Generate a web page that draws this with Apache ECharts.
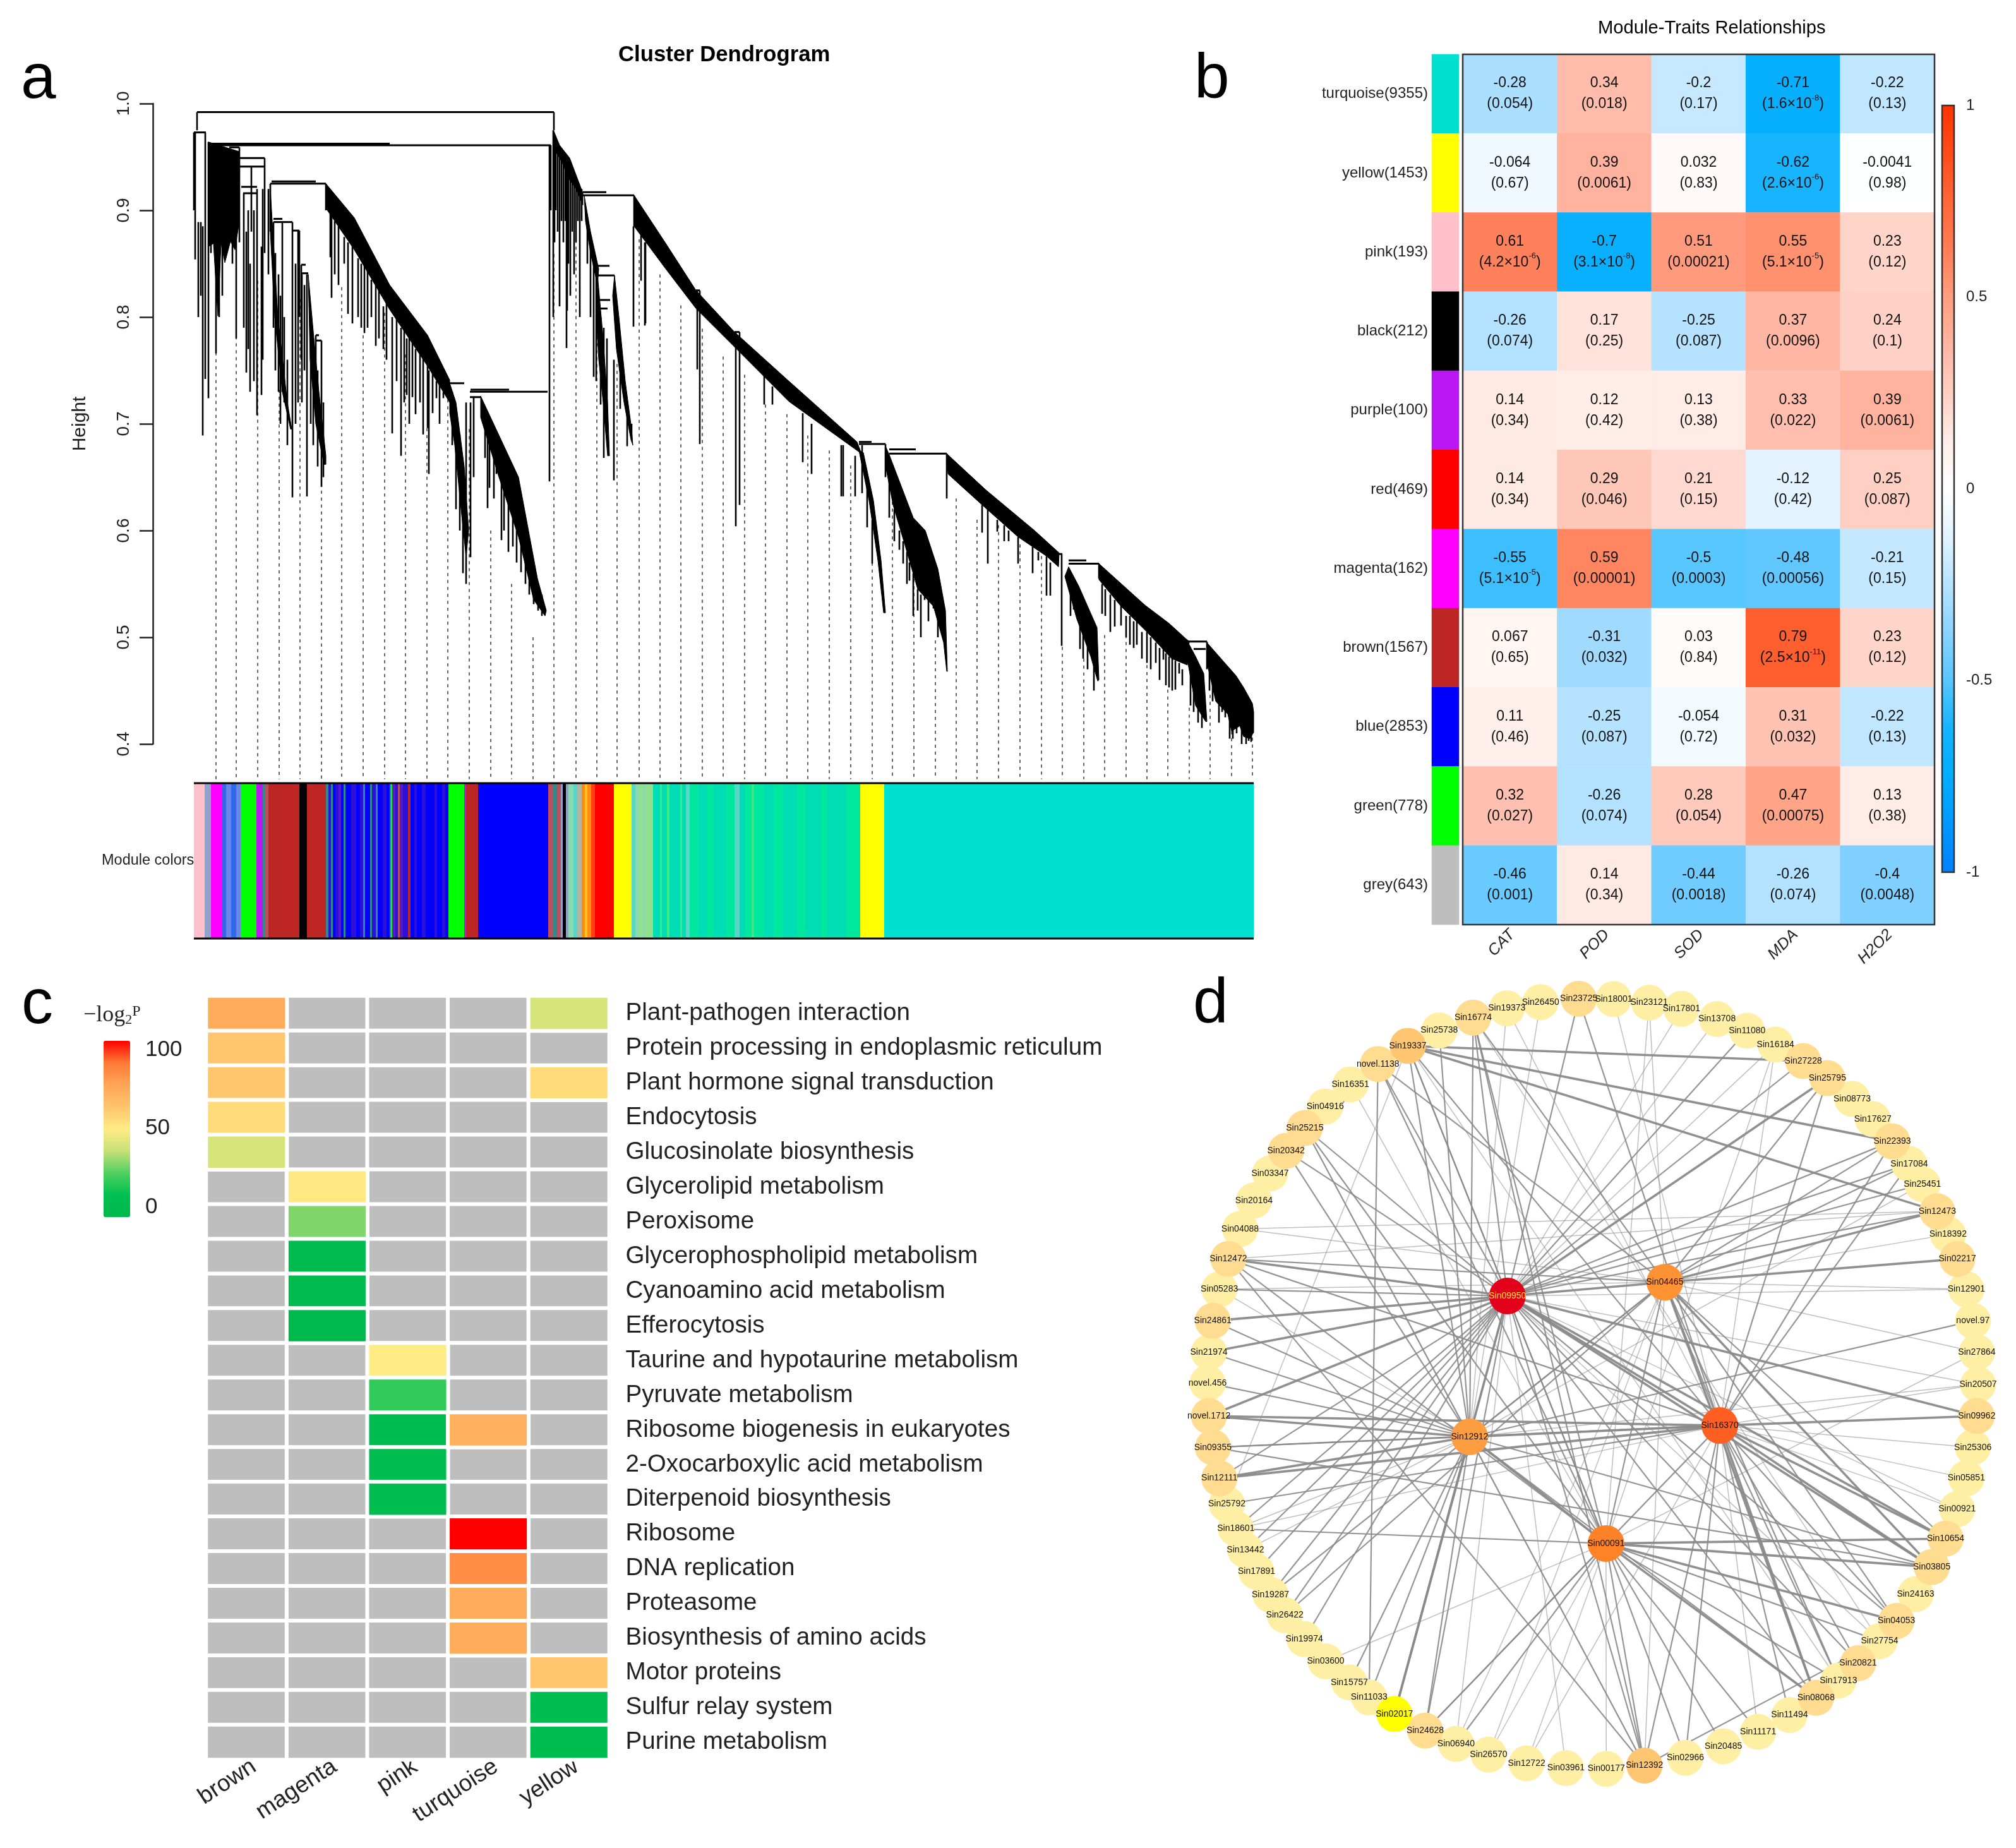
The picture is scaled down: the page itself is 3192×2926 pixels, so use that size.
<!DOCTYPE html>
<html><head><meta charset="utf-8">
<style>html,body{margin:0;padding:0;background:#fff}#c{width:3192px;height:2926px}</style>
<script src="https://cdn.jsdelivr.net/npm/echarts@6/dist/echarts.min.js"></script>
</head><body><div id="c"></div>
<script>
// ---------- Panel a: dendrogram, x = leaf order position, value = merge height
const guideOrder=[342,374,408,442,475,509,541,575,609,642,676,709,743,777,810,844,877,912,945,977,1012,1045,1078,1112,1145,1179,1212,1246,1279,1313,1347,1381,1413,1447,1481,1514,1547,1581,1615,1649,1682,1716,1749,1783,1816,1849,1883,1916,1950,1983];
const guideTop=[.780,.847,.834,.732,.817,.644,.828,.783,.804,.765,.696,.723,.695,.600,.550,.500,.859,.892,.795,.756,.873,.840,.811,.789,.763,.746,.718,.709,.689,.675,.661,.570,.627,.587,.497,.630,.610,.605,.587,.576,.491,.480,.502,.502,.474,.451,.434,.446,.412,.406];
const guideFoot=.367;
const merges=[[312,877,.992],[307,326,.973],[330,872,.961],[330,617,.9625],[379,419,.949],[379,419,.941],[363,379,.959],[382,407,.922],[385,407,.916],[428,516,.925],[430,500,.927],[433,447,.892],[433,463,.889],[463,474,.881],[477,484,.849],[477,488,.841],[500,505,.783],[500,509,.778],[719,726,.696],[712,735,.738],[744,867,.730],[745,806,.732],[744,761,.725],[923,1004,.914],[923,960,.917],[944,973,.839],[944,965,.848],[946,966,.816],[946,962,.808],[1360,1402,.681],[1360,1380,.683],[1408,1499,.672],[1408,1450,.676],[1102,1108,.825],[1163,1171,.786],[1692,1740,.569],[1692,1720,.572],[1677,1682,.578],[1882,1911,.496],[1890,1909,.489]];
const twigs=[[312,.992,.975],[877,.992,.975],[309,.973,.854],[307,.973,.90],[314,.889,.80],[318,.889,.82],[321,.885,.689],[325,.973,.742],[330,.964,.724],[334,.96,.86],[342,.95,.766],[347,.93,.80],[352,.93,.82],[368,.95,.85],[374,.9,.78],[379,.959,.87],[386,.916,.79],[390,.88,.748],[393,.9,.77],[396,.85,.73],[398,.941,.88],[402,.9,.74],[407,.92,.708],[414,.866,.727],[416,.92,.76],[419,.949,.86],[425,.92,.84],[428,.925,.88],[433,.889,.79],[436,.86,.75],[441,.84,.73],[444,.82,.70],[447,.889,.73],[450,.80,.72],[455,.76,.68],[463,.889,.631],[468,.85,.70],[472,.881,.72],[474,.881,.80],[477,.849,.76],[478,.84,.72],[482,.83,.75],[486,.84,.632],[492,.80,.70],[496,.78,.68],[500,.783,.71],[503,.75,.66],[509,.778,.641],[512,.72,.65],[516,.925,.9],
[523,.90,.856],[525,.90,.818],[530,.89,.84],[536,.885,.83],[545,.875,.85],[551,.87,.803],[558,.87,.794],[567,.855,.80],[572,.85,.79],[577,.85,.785],[582,.85,.79],[588,.835,.80],[595,.83,.773],[600,.825,.78],[607,.81,.77],[612,.815,.76],[621,.80,.691],[628,.805,.74],[635,.79,.670],[640,.795,.72],[644,.78,.727],[648,.785,.70],[653,.78,.725],[658,.77,.709],[665,.77,.72],[670,.765,.69],[677,.76,.696],[679,.75,.653],[685,.75,.71],[691,.74,.724],[696,.74,.70],[702,.73,.724],
[716,.73,.68],[722,.70,.62],[728,.69,.60],[733,.66,.56],[738,.72,.55],[745,.72,.575],[750,.725,.65],[768,.71,.668],[772,.70,.621],[775,.70,.64],[782,.69,.63],[786,.68,.653],[794,.67,.591],[798,.665,.60],[805,.66,.58],[812,.64,.585],[818,.62,.57],[825,.61,.561],[832,.60,.55],[838,.58,.54],[845,.56,.531],[852,.55,.525],[858,.54,.52],[870,.961,.646],[872,.961,.90],
[876,.975,.80],[878,.97,.87],[880,.96,.90],[883,.96,.88],[886,.96,.81],[889,.95,.89],[892,.95,.87],[895,.95,.89],[897,.94,.771],[898,.94,.806],[900,.94,.85],[903,.94,.82],[906,.93,.88],[909,.93,.84],[912,.93,.87],[915,.92,.89],[918,.92,.80],[921,.92,.89],[930,.89,.85],[935,.87,.80],[940,.86,.744],[944,.84,.74],[951,.80,.718],[956,.79,.668],[961,.78,.705],[972,.76,.647],[982,.76,.714],[993,.72,.679],[1000,.70,.686],[1004,.914,.885],
[1003,.885,.791],[1015,.88,.834],[1021,.87,.792],[1022,.87,.794],[1104,.825,.751],[1108,.825,.681],[1165,.786,.604],[1171,.786,.624],[1210,.745,.718],[1223,.735,.718],[1271,.71,.664],[1285,.70,.653],[1332,.68,.632],[1335,.68,.632],[1354,.67,.632],[1365,.68,.635],[1373,.64,.603],[1381,.61,.569],
[1402,.681,.65],[1408,.661,.612],[1416,.62,.59],[1424,.60,.582],[1430,.59,.569],[1436,.58,.55],[1440,.57,.553],[1446,.56,.52],[1453,.545,.525],[1458,.54,.50],[1464,.55,.535],[1470,.54,.515],[1478,.53,.527],[1485,.52,.50],[1499,.672,.63],
[1555,.624,.598],[1564,.62,.569],[1579,.61,.599],[1590,.605,.590],[1597,.60,.590],[1612,.594,.569],[1635,.585,.560],[1644,.58,.572],[1657,.576,.539],[1663,.57,.539],[1681,.578,.492],[1695,.55,.52],[1700,.55,.526],[1710,.53,.489],[1715,.51,.48],[1722,.50,.47],[1732,.48,.45],[1740,.569,.555],
[1745,.55,.522],[1750,.545,.52],[1758,.54,.505],[1765,.535,.51],[1775,.53,.511],[1783,.52,.50],[1789,.52,.493],[1795,.515,.49],[1800,.515,.493],[1808,.505,.48],[1816,.505,.476],[1822,.50,.47],[1830,.495,.476],[1836,.49,.46],[1842,.49,.479],[1846,.485,.455],[1851,.482,.453],[1856,.48,.45],[1861,.478,.451],[1867,.476,.466],[1872,.47,.455],[1885,.48,.436],[1890,.45,.43],[1897,.45,.42],[1903,.44,.415],[1911,.496,.47],
[1915,.49,.45],[1920,.48,.44],[1930,.46,.42],[1935,.46,.43],[1940,.455,.425],[1947,.45,.405],[1952,.44,.405],[1958,.435,.41],[1966,.43,.40],[1973,.42,.40],[1977,.42,.403],[1981,.415,.402]];
const branchMass=[
 [[330,.964],[379,.955],[379,.890],[372,.863],[365,.871],[356,.851],[350,.869],[345,.801],[338,.869],[330,.866]],
 [[516,.925],[561,.893],[617,.830],[677,.783],[712,.741],[712,.720],[677,.754],[617,.807],[561,.863],[516,.902]],
 [[428,.92],[440,.80],[455,.72],[462,.695],[460,.695],[447,.73],[435,.80],[428,.88]],
 [[488,.84],[497,.78],[505,.73],[516,.67],[516,.662],[513,.662],[500,.70],[491,.76]],
 [[712,.738],[722,.72],[735,.66],[742,.60],[738,.575],[730,.62],[720,.68],[712,.71]],
 [[761,.726],[821,.650],[851,.555],[865,.525],[863,.520],[845,.535],[821,.594],[790,.65],[761,.706]],
 [[877,.974],[886,.961],[902,.949],[923,.916],[923,.905],[912,.92],[900,.93],[890,.945],[880,.955],[876,.96]],
 [[925,.914],[935,.88],[948,.845],[946,.83],[935,.86],[927,.89]],
 [[946,.84],[955,.78],[962,.72],[965,.67],[962,.67],[955,.72],[948,.76],[944,.80]],
 [[973,.839],[980,.80],[990,.74],[1000,.695],[1002,.68],[999,.685],[988,.72],[976,.77],[970,.82]],
 [[1004,.914],[1053,.870],[1102,.825],[1163,.786],[1249,.740],[1357,.683],[1364,.672],[1249,.721],[1163,.772],[1102,.808],[1053,.846],[1004,.885]],
 [[1367,.673],[1383,.628],[1395,.572],[1402,.523],[1399,.523],[1390,.572],[1376,.628],[1360,.675]],
 [[1402,.679],[1408,.671],[1446,.612],[1465,.600],[1485,.564],[1497,.525],[1500,.468],[1499,.468],[1494,.495],[1478,.529],[1453,.545],[1434,.584],[1414,.624],[1402,.661]],
 [[1499,.672],[1561,.638],[1638,.600],[1677,.579],[1676,.566],[1657,.576],[1612,.594],[1555,.624],[1501,.653]],
 [[1692,.566],[1708,.548],[1737,.509],[1740,.460],[1738,.459],[1727,.482],[1705,.517],[1686,.557]],
 [[1740,.569],[1813,.530],[1851,.513],[1877,.499],[1883,.496],[1880,.474],[1855,.480],[1816,.505],[1775,.529],[1740,.554]],
 [[1883,.493],[1893,.482],[1906,.466],[1911,.421],[1909,.421],[1893,.436],[1879,.482]],
 [[1911,.495],[1957,.464],[1969,.453],[1983,.438],[1985,.43],[1985,.411],[1983,.409],[1979,.405],[1969,.407],[1963,.417],[1950,.412],[1944,.428],[1925,.440],[1911,.476]]
];
// module colour strip: where each run starts and which module tint it has
const moduleEnd=1985;
const moduleRuns=[[307,'pink'],[324,'slate'],[334,'magenta'],[351,'royal'],[358,'cornflower'],[366,'royal'],[374,'cornflower'],[381,'green'],[406,'purple'],[416,'teal'],[420,'rose'],[425,'brown'],[474,'black'],[486,'brown'],[516,'teal'],[520,'navy'],[524,'teal'],[527,'blue'],[531,'navy'],[536,'violet'],[540,'blue'],[544,'teal'],[547,'blue'],[556,'navy'],[564,'blue'],[570,'navy'],[575,'teal'],[578,'blue'],[586,'teal'],[589,'navy'],[595,'teal'],[598,'blue'],[606,'navy'],[612,'blue'],[617,'teal'],[619,'green'],[621,'violet'],[626,'navy'],[630,'rose'],[633,'violet'],[638,'navy'],[646,'brown'],[650,'blue'],[656,'navy'],[660,'blue'],[668,'navy'],[674,'blue'],[688,'navy'],[692,'blue'],[700,'navy'],[705,'blue'],[710,'green'],[735,'purple'],[738,'brown'],[757,'blue'],[868,'rose'],[876,'teal'],[882,'rose'],[888,'slate'],[891,'black'],[896,'slate'],[900,'mint'],[908,'aqua'],[914,'grey'],[921,'orange'],[926,'gold'],[930,'orange'],[936,'scarlet'],[942,'red'],[972,'yellow'],[1000,'aqua'],[1006,'mint'],[1012,'pale'],[1018,'mint'],[1022,'pale'],[1034,'sea'],[1045,'lime'],[1048,'sea'],[1056,'lime'],[1060,'sea'],[1077,'lime'],[1080,'sea'],[1086,'aqua'],[1092,'spring'],[1106,'sea'],[1120,'spring'],[1130,'sea'],[1150,'spring'],[1163,'aqua'],[1171,'sea'],[1180,'spring'],[1190,'lime'],[1194,'spring'],[1210,'sea'],[1225,'spring'],[1240,'sea'],[1262,'spring'],[1275,'sea'],[1300,'spring'],[1310,'sea'],[1340,'spring'],[1362,'yellow'],[1400,'turquoise']];
// ---------- Panel b
const traits=['CAT','POD','SOD','MDA','H2O2'];
const modules=['turquoise','yellow','pink','black','purple','red','magenta','brown','blue','green','grey'];
const moduleSizes=[9355,1453,193,212,100,469,162,1567,2853,778,643];
const corrTurquoise=[-0.28,0.34,-0.2,-0.71,-0.22];
const corrYellow=[-0.064,0.39,0.032,-0.62,-0.0041];
const corrPink=[0.61,-0.7,0.51,0.55,0.23];
const corrBlack=[-0.26,0.17,-0.25,0.37,0.24];
const corrPurple=[0.14,0.12,0.13,0.33,0.39];
const corrRed=[0.14,0.29,0.21,-0.12,0.25];
const corrMagenta=[-0.55,0.59,-0.5,-0.48,-0.21];
const corrBrown=[0.067,-0.31,0.03,0.79,0.23];
const corrBlue=[0.11,-0.25,-0.054,0.31,-0.22];
const corrGreen=[0.32,-0.26,0.28,0.47,0.13];
const corrGrey=[-0.46,0.14,-0.44,-0.26,-0.4];
const pTurquoise=['0.054','0.018','0.17','1.6×10^-8','0.13'];
const pYellow=['0.67','0.0061','0.83','2.6×10^-6','0.98'];
const pPink=['4.2×10^-6','3.1×10^-8','0.00021','5.1×10^-5','0.12'];
const pBlack=['0.074','0.25','0.087','0.0096','0.1'];
const pPurple=['0.34','0.42','0.38','0.022','0.0061'];
const pRed=['0.34','0.046','0.15','0.42','0.087'];
const pMagenta=['5.1×10^-5','0.00001','0.0003','0.00056','0.15'];
const pBrown=['0.65','0.032','0.84','2.5×10^-11','0.12'];
const pBlue=['0.46','0.087','0.72','0.032','0.13'];
const pGreen=['0.027','0.074','0.054','0.00075','0.38'];
const pGrey=['0.001','0.34','0.0018','0.074','0.0048'];
const corrRows=[corrTurquoise,corrYellow,corrPink,corrBlack,corrPurple,corrRed,corrMagenta,corrBrown,corrBlue,corrGreen,corrGrey];
const pRows=[pTurquoise,pYellow,pPink,pBlack,pPurple,pRed,pMagenta,pBrown,pBlue,pGreen,pGrey];
// ---------- Panel c
const enrichModules=['brown','magenta','pink','turquoise','yellow'];
const pathways=['Plant-pathogen interaction','Protein processing in endoplasmic reticulum','Plant hormone signal transduction','Endocytosis','Glucosinolate biosynthesis','Glycerolipid metabolism','Peroxisome','Glycerophospholipid metabolism','Cyanoamino acid metabolism','Efferocytosis','Taurine and hypotaurine metabolism','Pyruvate metabolism','Ribosome biogenesis in eukaryotes','2-Oxocarboxylic acid metabolism','Diterpenoid biosynthesis','Ribosome','DNA replication','Proteasome','Biosynthesis of amino acids','Motor proteins','Sulfur relay system','Purine metabolism'];
const enrichBrown=[72,62,62,55,41,null,null,null,null,null,null,null,null,null,null,null,null,null,null,null,null,null];
const enrichMagenta=[null,null,null,null,null,51,30,6,6,2,null,null,null,null,null,null,null,null,null,null,null,null];
const enrichPink=[null,null,null,null,null,null,null,null,null,null,50,20,8,8,8,null,null,null,null,null,null,null];
const enrichTurquoise=[null,null,null,null,null,null,null,null,null,null,null,null,70,null,null,100,82,72,72,null,null,null];
const enrichYellow=[41,null,55,null,null,null,null,null,null,null,null,null,null,null,null,null,null,null,null,62,8,8];
// ---------- Panel d: angle clockwise from the top of the ring
const ringNames=['Sin18001','Sin23121','Sin17801','Sin13708','Sin11080','Sin16184','Sin27228','Sin25795','Sin08773','Sin17627','Sin22393','Sin17084','Sin25451','Sin12473','Sin18392','Sin02217','Sin12901','novel.97','Sin27864','Sin20507','Sin09962','Sin25306','Sin05851','Sin00921','Sin10654','Sin03805','Sin24163','Sin04053','Sin27754','Sin20821','Sin17913','Sin08068','Sin11494','Sin11171','Sin20485','Sin02966','Sin12392','Sin00177','Sin03961','Sin12722','Sin26570','Sin06940','Sin24628','Sin02017','Sin11033','Sin15757','Sin03600','Sin19974','Sin26422','Sin19287','Sin17891','Sin13442','Sin18601','Sin25792','Sin12111','Sin09355','novel.1712','novel.456','Sin21974','Sin24861','Sin05283','Sin12472','Sin04088','Sin20164','Sin03347','Sin20342','Sin25215','Sin04916','Sin16351','novel.1138','Sin19337','Sin25738','Sin16774','Sin19373','Sin26450','Sin23725'];
const ringAngles=[3.1,8.4,13.3,18.8,23.6,28.3,33.1,37.5,42.3,46.6,51.0,55.2,58.8,63.4,67.2,71.1,75.8,80.6,85.3,90.1,94.8,99.5,104.2,109,113.7,118.4,123.1,128.0,131.9,136.5,140.4,144.6,149.3,154.6,160.2,166.1,172.3,178.0,184.0,189.9,195.7,200.8,205.8,211,215.5,219.2,223.9,228.5,233.1,236.8,240.8,244.4,247.9,251.8,255.8,260.5,265.2,270.1,274.7,279.4,284.2,288.9,293.7,298.4,303.1,307.2,311.6,316.0,321.0,326.1,331.3,336.5,341.9,347.1,352.2,357.9];
const hubNames=['Sin09950','Sin04465','Sin16370','Sin12912','Sin00091'];
const hubRadii=[.318,.323,.347,.348,.416];
const hubAngles=[315.8,35.3,108.2,246.7,175.3];
const warmestNodes=['Sin19337','Sin12392'];
const warmNodes=['Sin16774','novel.1138','Sin25215','Sin20342','Sin12472','Sin12473','Sin22393','Sin02217','Sin23725','Sin09962','novel.1712','Sin09355','Sin12111','Sin10654','Sin03805','Sin04053','Sin08068','Sin24628','Sin20821','Sin25795','Sin27228','Sin24861'];
const edgesHeavy=[
 ['Sin09950',['Sin25795','Sin12472','Sin21974','novel.1712','Sin24861','Sin04465','Sin16370','Sin03805','Sin10654','Sin02017','Sin09962']],
 ['Sin04465',['Sin02217','Sin12473','Sin03805','Sin08068']],
 ['Sin16370',['Sin09962','Sin10654','Sin03805','Sin12912','novel.1712','Sin08068','Sin12111']],
 ['Sin12912',['novel.1712','Sin02017','Sin00091','Sin12111']],
 ['Sin00091',['Sin08068','Sin03805','Sin10654','Sin04053']],
 ['Sin19337',['Sin27228','Sin12473','Sin22393']]];
const edgesMedium=[
 ['Sin09950',['Sin19337','novel.1138','Sin23725','Sin16774','Sin25215','Sin20342','Sin11080','Sin27228','Sin22393','Sin17084','Sin25451','Sin12473','Sin12912','Sin00091','Sin12392','Sin08068','Sin04053','Sin24628','Sin19974','Sin19287','Sin17891','Sin20821','Sin26422','Sin12111','Sin18601','Sin13442','Sin05283']],
 ['Sin04465',['Sin25795','Sin12472','Sin16774','Sin22393','Sin17084','Sin10654','Sin04053','Sin00091','Sin16370','novel.1138','Sin12912','Sin17913','Sin19287','Sin26422']],
 ['Sin16370',['Sin04053','Sin17913','Sin20821','Sin25795','Sin17084','Sin19337','Sin09355','Sin12472','Sin24628','Sin02966','Sin12392','Sin25792','Sin11494','Sin23725','Sin22393']],
 ['Sin12912',['Sin16774','Sin19337','Sin24861','novel.456','Sin21974','Sin09355','Sin11033','Sin15757','Sin24628','Sin12392','Sin08068','Sin03805','Sin25738','Sin25215','Sin20342']],
 ['Sin00091',['Sin24628','Sin12392','Sin02966','Sin12472','Sin16774','Sin19337','Sin18601','Sin25215','Sin20485','Sin11171','Sin17913','Sin06940','novel.1138','Sin27754']],
 ['novel.1138',['Sin20164','Sin11033']],['Sin12392',['Sin27754','Sin12472','Sin16774']],['Sin09355',['Sin03805']],['novel.97',['Sin12912']]];
const edgesThin=[
 ['Sin09950',['Sin17801','Sin13708','Sin16184','Sin12901','Sin20507','Sin00921','Sin27754','Sin06940','Sin03961']],
 ['Sin04465',['Sin12901','Sin27864','Sin04088','Sin23121','Sin18392','Sin12392','Sin06940','Sin26570','Sin05283']],
 ['Sin16370',['Sin25306','Sin05851','Sin00921','Sin20507','Sin12722','Sin16184','Sin11171','Sin18601','Sin19373','Sin18001']],
 ['Sin12912',['Sin19373','Sin05283','Sin20507','Sin25451','Sin18601','Sin13442','Sin26450']],
 ['Sin00091',['Sin03600','Sin26570','Sin12722','Sin00177','Sin27864','Sin16184','Sin23121','Sin16351']],
 ['Sin04088',['Sin12473']],['Sin12472',['Sin12473']],['Sin25215',['Sin12392']],['Sin19337',['Sin17913','Sin25792']],['Sin16774',['Sin27754']]];

// ---------- palettes
const moduleTint={pink:'#FFC0CB',slate:'#8FA4C8',magenta:'#FF00FF',royal:'#2F6BE8',cornflower:'#6A86E8',green:'#00FF00',purple:'#B916F2',teal:'#2E8B8B',rose:'#B8505E',brown:'#BE2625',black:'#000000',navy:'#2A10D8',violet:'#5A18C8',blue:'#0000FF',mint:'#8CD8B0',aqua:'#55D8C8',grey:'#B4B4A4',orange:'#FF8C10',gold:'#FFC020',scarlet:'#FF4010',red:'#FF0000',yellow:'#FFFF00',pale:'#90E08C',sea:'#00DDB4',lime:'#40E880',spring:'#00E89E',turquoise:'#00E0D0'};
const stripTint=Object.assign({},moduleTint,{grey:'#BEBEBE'});
const corrRamp=['#0080FF','#0098FF','#00AEFF','#14B4FF','#58C6FF','#8AD3FF','#B5E3FF','#E2F3FF','#FFFFFF','#FFEDE7','#FFCFC3','#FFB5A2','#FF9E7F','#FF7D56','#FF6638','#FF4C1C','#FF3300'];
const enrichRamp=['#00B84C','#00C050','#50D060','#C8E078','#FFEB84','#FFC46C','#FFA556','#FF7A36','#FF0000'];
const FONT='Liberation Sans';
const hubTint={Sin09950:'#E3001B',Sin04465:'#FF9232',Sin16370:'#FF5F20',Sin12912:'#FF9E40',Sin00091:'#FF8226'};

function drawGuide(p,api){const a=api.coord([api.value(0),api.value(1)]),b=api.coord([api.value(0),guideFoot]);
 return {type:'line',shape:{x1:a[0],y1:a[1],x2:b[0],y2:b[1]},style:{stroke:'#666',lineWidth:2,lineDash:[5,6]}};}
function drawTwig(p,api){const a=api.coord([api.value(0),api.value(1)]),b=api.coord([api.value(0),api.value(2)]);
 return {type:'line',shape:{x1:a[0],y1:a[1],x2:b[0],y2:b[1]},style:{stroke:'#000',lineWidth:2.6}};}
function drawMerge(p,api){const a=api.coord([api.value(0),api.value(2)]),b=api.coord([api.value(1),api.value(2)]);
 return {type:'line',shape:{x1:a[0],y1:a[1],x2:b[0],y2:b[1]},style:{stroke:'#000',lineWidth:3}};}
function drawMass(p,api){return {type:'polygon',shape:{points:branchMass[p.dataIndex].map(q=>api.coord(q))},style:{fill:'#000',stroke:'#000',lineWidth:1}};}
function drawRun(p,api){const i=p.dataIndex,x0=moduleRuns[i][0],x1=i+1<moduleRuns.length?moduleRuns[i+1][0]:moduleEnd;
 const a=api.coord([x0,1]),b=api.coord([x1,0]);
 return {type:'rect',shape:{x:a[0],y:a[1],width:b[0]-a[0]+.5,height:b[1]-a[1]},style:{fill:moduleTint[moduleRuns[i][1]]}};}
function drawRail(p,api){const a=api.coord([307,api.value(1)]),b=api.coord([moduleEnd,api.value(1)]);
 return {type:'line',shape:{x1:a[0],y1:a[1],x2:b[0],y2:b[1]},style:{stroke:'#000',lineWidth:3}};}
function drawFrame(p){const c=p.coordSys;return {type:'rect',shape:{x:c.x,y:c.y,width:c.width,height:c.height},style:{fill:'none',stroke:'#333',lineWidth:2.5}};}

const corrCells=[],stripCells=[];
corrRows.forEach((r,j)=>{r.forEach((v,i)=>corrCells.push([i,j,v,pRows[j][i]]));
 stripCells.push({value:[0,j,1],itemStyle:{color:stripTint[modules[j]]}});});
const moduleLabels=modules.map((m,i)=>m+'('+moduleSizes[i]+')');
function corrLabel(p){const t=p.data[3].split('^');
 return '{v|'+p.data[2]+'}\n{n|('+t[0]+'}'+(t[1]?'{s|'+t[1]+'}':'')+'{n|)}';}

const enrichCols=[enrichBrown,enrichMagenta,enrichPink,enrichTurquoise,enrichYellow];
const enrichCells=[],naCells=[];
enrichCols.forEach((c,i)=>c.forEach((v,j)=>{(v===null?naCells:enrichCells).push(v===null?[i,j,0]:[i,j,v]);}));

const nodes=ringNames.map((n,i)=>({name:n,value:[1,ringAngles[i]],symbolSize:57,
  itemStyle:{color:n==='Sin02017'?'#FFFF00':warmestNodes.includes(n)?'#FFC672':warmNodes.includes(n)?'#FFDC90':'#FFEFA4'}}))
 .concat(hubNames.map((n,i)=>({name:n,value:[hubRadii[i],hubAngles[i]],symbolSize:58,itemStyle:{color:hubTint[n]},
  label:{color:n==='Sin09950'?'#FFE040':'#111'}})));
nodes.sort((a,b)=>(a.itemStyle.color==='#FFEFA4'?0:1)-(b.itemStyle.color==='#FFEFA4'?0:1));
function tierLinks(list,width,op){const out=[];list.forEach(e=>e[1].forEach(t=>out.push({source:e[0],target:t,lineStyle:{width:width,opacity:op,color:'#8a8a8a'}})));return out;}
const links=tierLinks(edgesThin,1.5,.55).concat(tierLinks(edgesMedium,2.2,.9),tierLinks(edgesHeavy,3.6,.95));

const sq={show:false};
const series=[
 {type:'custom',xAxisIndex:0,yAxisIndex:0,renderItem:drawGuide,data:guideOrder.map((x,i)=>[x,guideTop[i]]),silent:true,z:1},
 {type:'custom',xAxisIndex:0,yAxisIndex:0,renderItem:drawTwig,data:twigs,silent:true,z:2},
 {type:'custom',xAxisIndex:0,yAxisIndex:0,renderItem:drawMerge,data:merges,silent:true,z:2},
 {type:'custom',xAxisIndex:0,yAxisIndex:0,renderItem:drawMass,data:branchMass.map(b=>b[0]),silent:true,z:2},
 {type:'custom',xAxisIndex:1,yAxisIndex:1,renderItem:drawRun,data:moduleRuns.map(r=>[r[0],1]),silent:true},
 {type:'custom',xAxisIndex:1,yAxisIndex:1,renderItem:drawRail,data:[[307,1],[307,0]],silent:true,z:3},
 {type:'heatmap',xAxisIndex:2,yAxisIndex:2,data:stripCells,silent:true},
 {type:'heatmap',xAxisIndex:3,yAxisIndex:3,data:corrCells,silent:true,encode:{x:0,y:1,value:2},
  label:{show:true,formatter:corrLabel,color:'#111',fontFamily:FONT,lineHeight:33,
   rich:{v:{fontSize:23,lineHeight:33,fontFamily:FONT,color:'#111'},n:{fontSize:23,lineHeight:33,fontFamily:FONT,color:'#111'},s:{fontSize:13,lineHeight:33,verticalAlign:'top',fontFamily:FONT,color:'#111'}}}},
 {type:'heatmap',xAxisIndex:5,yAxisIndex:5,data:naCells,silent:true,itemStyle:{color:'#BEBEBE',borderColor:'#fff',borderWidth:6}},
 {type:'heatmap',xAxisIndex:5,yAxisIndex:5,data:enrichCells,silent:true,itemStyle:{borderColor:'#fff',borderWidth:6}},
 {type:'graph',coordinateSystem:'polar',polarIndex:0,layout:'none',roam:false,silent:true,data:nodes,links:links,edgeSymbol:['none','none'],
  label:{show:true,position:'inside',fontSize:14,fontFamily:FONT,color:'#111'},emphasis:{disabled:true}},
 {type:'custom',xAxisIndex:3,yAxisIndex:3,renderItem:drawFrame,data:[[0,0]],silent:true,z:6},
 {type:'custom',xAxisIndex:4,yAxisIndex:4,renderItem:drawFrame,data:[[0,0]],silent:true,z:6}
];
const hiddenX={show:false,type:'value',min:307,max:moduleEnd};
const cat=(d,extra)=>Object.assign({type:'category',data:d,axisTick:{show:false},axisLine:{show:false},splitLine:{show:false}},extra);
const labelStyle=(s,extra)=>Object.assign({fontSize:s,fontFamily:FONT,color:'#222'},extra);
const titleAt=(t,l,tp,s,extra)=>({text:t,left:l,top:tp,padding:0,textStyle:Object.assign({fontSize:s,fontFamily:FONT,color:'#000',fontWeight:'normal'},extra||{})});

const option={
 animation:false,backgroundColor:'#fff',
 title:[
  titleAt('a',33,77,100),titleAt('b',1891,77,100),titleAt('c',34,1542,100),titleAt('d',1889,1541,100),
  titleAt('Cluster Dendrogram',979,70,34.7,{fontWeight:'bold'}),
  titleAt('Module-Traits Relationships',2530,30,29.2),
  titleAt('Module colors',161,1351,23.5,{color:'#222'}),
  {text:'−log{s|2}{p|P}',left:132,top:1590,padding:0,textStyle:{fontSize:36,fontFamily:'Liberation Serif',color:'#222',fontWeight:'normal',
    rich:{s:{fontSize:22,verticalAlign:'bottom',fontFamily:'Liberation Serif',color:'#222'},p:{fontSize:24,verticalAlign:'top',fontFamily:'Liberation Serif',color:'#222'}}}}
 ],
 grid:[
  {left:307,top:164,width:1678,height:1014},
  {left:307,top:1240,width:1678,height:246},
  {left:2267,top:86,width:43,height:1378},
  {left:2316,top:86,width:747,height:1378},
  {left:3075,top:167,width:19,height:1214},
  {left:326.5,top:1577,width:638,height:1209},
  {left:164,top:1662,width:42,height:249},
  {left:338.5,top:1577,width:638,height:1209},
  {left:2320,top:86,width:747,height:1378}
 ],
 xAxis:[
  Object.assign({gridIndex:0},hiddenX),Object.assign({gridIndex:1},hiddenX),
  cat([''],{gridIndex:2,show:false}),
  cat(traits,{gridIndex:3,show:false}),
  {gridIndex:4,show:false,type:'value',min:0,max:1},
  cat(enrichModules,{gridIndex:5,show:false}),
  {gridIndex:6,show:false,type:'value'},
  cat(enrichModules,{gridIndex:7,axisLabel:labelStyle(37,{rotate:33,margin:8,interval:0})}),
  cat(traits,{gridIndex:8,axisLabel:labelStyle(25,{rotate:45,margin:12,fontStyle:'italic'})})
 ],
 yAxis:[
  {gridIndex:0,type:'value',min:.4,max:1,interval:.1,offset:65,splitLine:sq,name:'Height',nameLocation:'middle',nameRotate:90,nameGap:100,
   nameTextStyle:labelStyle(30),axisLine:{show:true,lineStyle:{color:'#222',width:2.5}},axisTick:{show:true,length:21,lineStyle:{color:'#222',width:2.5}},
   axisLabel:labelStyle(28,{rotate:90,margin:32,formatter:v=>v.toFixed(1),showMinLabel:true,showMaxLabel:true})},
  {gridIndex:1,type:'value',min:0,max:1,show:false},
  cat(moduleLabels,{gridIndex:2,inverse:true,axisLabel:labelStyle(24,{margin:6,interval:0})}),
  cat(modules,{gridIndex:3,inverse:true,show:false}),
  {gridIndex:4,type:'value',position:'right',min:-1,max:1,interval:.5,splitLine:sq,axisLine:{show:false},axisTick:{show:true,length:13,lineStyle:{color:'#222',width:2}},axisLabel:labelStyle(24,{margin:19,showMinLabel:true,showMaxLabel:true})},
  cat(pathways,{gridIndex:5,inverse:true,position:'right',axisLabel:labelStyle(38.6,{margin:26,interval:0,align:'left'})}),
  {gridIndex:6,type:'value',position:'right',min:0,max:100,interval:50,splitLine:sq,axisLine:sq,axisTick:sq,axisLabel:labelStyle(35,{margin:24,showMinLabel:true,showMaxLabel:true})},
  {gridIndex:7,type:'value',show:false},
  {gridIndex:8,type:'value',show:false}
 ],
 polar:{center:[2522,2191],radius:610},
 radiusAxis:{min:0,max:1,show:false},
 angleAxis:{type:'value',min:0,max:360,startAngle:90,clockwise:true,show:false},
 visualMap:[
  {type:'continuous',seriesIndex:7,dimension:2,min:-1,max:1,inRange:{color:corrRamp},left:3075,top:167,itemWidth:19,itemHeight:1214,padding:0,calculable:false,hoverLink:false},
  {type:'continuous',seriesIndex:9,dimension:2,min:0,max:100,inRange:{color:enrichRamp},left:164,top:1648,itemWidth:42,itemHeight:279,padding:0,calculable:false,hoverLink:false}
 ],
 series:series
};
const chart=echarts.init(document.getElementById('c'),null,{renderer:'canvas',width:3192,height:2926,devicePixelRatio:1});
chart.setOption(option);
</script></body></html>
